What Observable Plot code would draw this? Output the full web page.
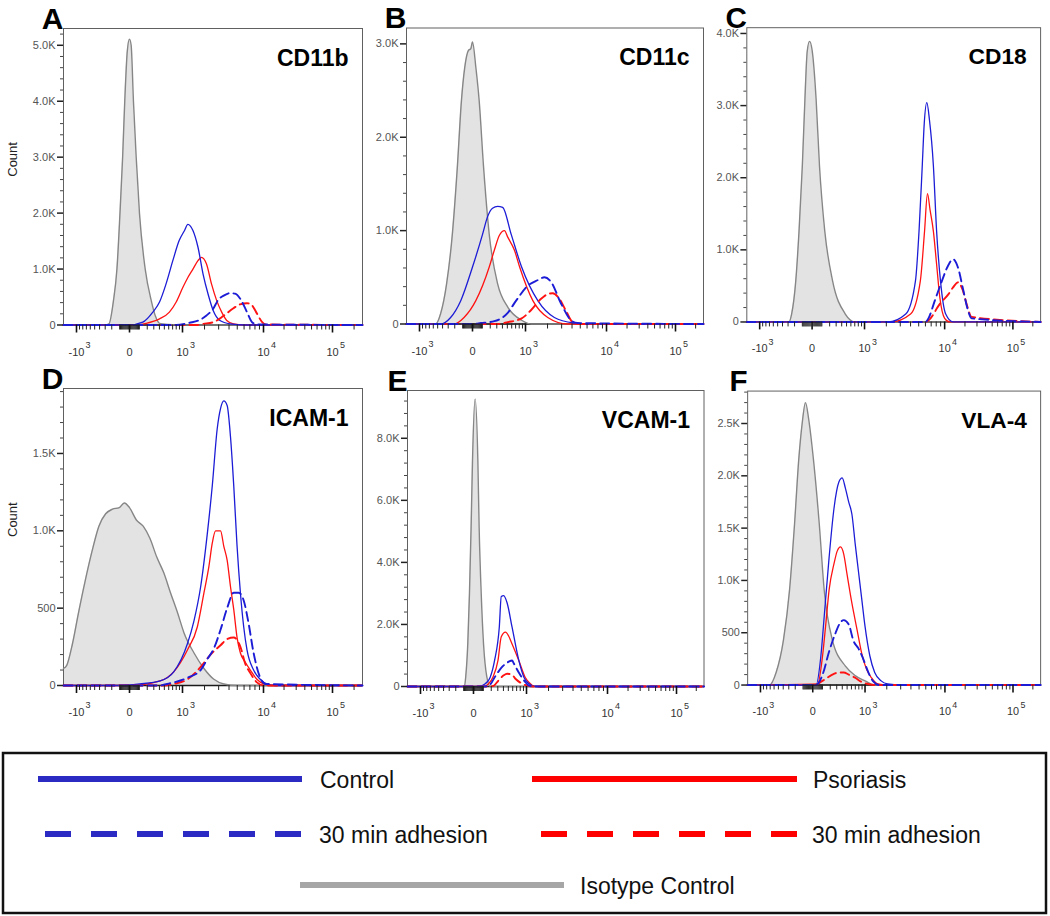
<!DOCTYPE html>
<html><head><meta charset="utf-8">
<script src="https://cdn.jsdelivr.net/npm/d3@7"></script>
<script src="https://cdn.jsdelivr.net/npm/@observablehq/plot@0.6"></script>
<style>
body{margin:0;background:#fff;}
#root{position:relative;width:1050px;height:916px;overflow:hidden;font-family:"Liberation Sans",Arial,sans-serif;background:#fff;}
.panel{position:absolute;}
#legend{position:absolute;left:0;top:0;pointer-events:none;}
</style></head><body><div id="root"></div>
<script>
// ---------- panel text ----------
const panelLetters = ["A","B","C","D","E","F"];
const panelTitles  = ["CD11b","CD11c","CD18","ICAM-1","VCAM-1","VLA-4"];

// ---------- x axis (biexponential display) ----------
const xMajorTicks = [-1000, 0, 1000, 10000, 100000];
const xTickBase   = ["-10", "0", "10", "10", "10"];
const xTickExp    = ["3", "", "3", "4", "5"];

// ---------- y axis ticks per panel ----------
const yTicksA = [0, 1000, 2000, 3000, 4000, 5000];
const yTicksB = [0, 1000, 2000, 3000];
const yTicksC = [0, 1000, 2000, 3000, 4000];
const yTicksD = [0, 500, 1000, 1500];
const yTicksE = [0, 2000, 4000, 6000, 8000];
const yTicksF = [0, 500, 1000, 1500, 2000, 2500];
const yMaxes  = [5300, 3170, 4080, 1920, 9540, 2810];

// ---------- series: [fluorescence, count] ----------
// A  CD11b
const A_iso = [[-1650,0],[-300,0],[-240,20],[-176,440],[-132,1000],[-96,2000],[-67,3000],[-45,4000],[-20,4900],[0,5110],[15,5000],[37,4000],[65,3000],[101,2000],[172,1000],[258,440],[330,150],[402,30],[600,10],[1000,0],[262144,0]];
const A_ctrl = [[-1650,0],[0,0],[141,50],[284,230],[402,410],[540,740],[705,1150],[890,1510],[1071,1690],[1195,1800],[1405,1690],[1643,1390],[1914,910],[2221,550],[2570,260],[3113,80],[4117,20],[6000,0],[262144,0]];
const A_pso = [[-1650,0],[50,0],[185,30],[402,110],[617,230],[800,410],[1010,670],[1195,850],[1405,1000],[1643,1150],[1823,1210],[2119,1090],[2454,730],[2834,440],[3267,230],[3758,80],[4510,20],[6000,0],[262144,0]];
const A_ctrl30 = [[-1650,0],[800,0],[1263,40],[1732,90],[2119,170],[2570,290],[2967,450],[3500,530],[4117,570],[4724,560],[5411,470],[6485,230],[7410,50],[8500,10],[262144,0]];
const A_pso30 = [[-1650,0],[1600,0],[1914,20],[2570,50],[3417,160],[4510,300],[5411,370],[6485,390],[7410,350],[8464,200],[9660,50],[10695,10],[262144,0]];
// B  CD11c
const B_iso = [[-1650,0],[-547,0],[-439,110],[-327,430],[-235,960],[-165,1680],[-114,2390],[-76,2750],[-38,2930],[-15,2950],[0,3020],[31,2750],[65,2390],[114,1680],[186,960],[314,430],[509,180],[873,40],[1207,0],[262144,0]];
const B_ctrl = [[-1650,0],[-439,0],[-261,70],[-122,250],[0,610],[102,960],[164,1150],[233,1240],[314,1260],[404,1250],[588,960],[873,610],[1490,250],[2440,70],[4250,10],[6000,0],[262144,0]];
const B_pso = [[-1650,0],[-210,0],[-84,70],[31,250],[186,610],[260,790],[345,950],[440,1000],[509,930],[669,790],[813,610],[1274,250],[2013,70],[3547,0],[262144,0]];
const B_ctrl30 = [[-1650,0],[0,0],[83,10],[260,30],[509,120],[713,250],[1083,410],[1490,470],[1823,500],[2218,450],[2948,220],[3886,40],[4658,10],[262144,0]];
const B_pso30 = [[-1650,0],[314,0],[509,20],[873,60],[1207,150],[1650,270],[2013,320],[2327,330],[2813,270],[3387,140],[4070,20],[5000,0],[262144,0]];
// C  CD18
const C_iso = [[-1650,0],[-288,0],[-243,110],[-183,570],[-140,1260],[-100,2170],[-71,3090],[-47,3750],[-24,3890],[0,3770],[38,3090],[73,2170],[135,1260],[243,570],[473,110],[713,0],[262144,0]];
const C_ctrl = [[-1650,0],[2095,0],[3500,110],[4579,570],[5047,1260],[5510,2170],[5810,2750],[6230,3040],[6685,2800],[7420,2170],[8086,1260],[8960,570],[10366,110],[13357,0],[262144,0]];
const C_pso = [[-1650,0],[2304,0],[4004,110],[5230,570],[5860,1260],[6335,1780],[6800,1550],[7420,1260],[8086,800],[8804,340],[10000,50],[11900,0],[262144,0]];
const C_ctrl30 = [[-1650,0],[6000,0],[6500,50],[7730,300],[9180,550],[11240,780],[13357,870],[15850,750],[18800,450],[22300,150],[25000,50],[262144,0]];
const C_pso30 = [[-1650,0],[6000,0],[6500,20],[8804,250],[11490,390],[13357,480],[15850,550],[18390,450],[21570,220],[25000,70],[262144,0]];
// D  ICAM-1
const D_iso = [[-1650,110],[-1463,130],[-1175,270],[-933,470],[-729,680],[-557,870],[-413,1030],[-292,1110],[-190,1140],[-104,1150],[-49,1180],[0,1150],[67,1070],[146,1030],[240,950],[351,830],[486,730],[644,600],[840,470],[1053,340],[1454,210],[1967,110],[2622,40],[3465,10],[5000,0],[262144,0]];
const D_ctrl = [[-1650,0],[-104,0],[104,10],[414,30],[735,90],[1178,270],[1454,420],[1783,640],[2168,980],[2503,1290],[2882,1660],[3162,1790],[3465,1840],[3798,1810],[4160,1610],[4550,1290],[4975,900],[5440,600],[5940,380],[6485,230],[7720,100],[9185,40],[11217,10],[15000,0],[262144,0]];
const D_pso = [[-1650,0],[0,0],[414,30],[735,90],[1178,230],[1612,380],[1967,600],[2273,770],[2503,920],[2749,1000],[3162,1000],[3465,900],[3798,810],[4160,640],[4550,490],[4975,310],[5440,210],[6200,150],[7080,100],[8420,40],[10000,10],[13000,0],[262144,0]];
const D_ctrl30 = [[-1650,0],[400,0],[561,10],[1178,50],[1783,100],[2168,170],[2624,240],[3162,360],[3798,500],[4550,600],[5196,600],[5940,550],[6772,400],[7720,210],[9185,50],[10600,10],[262144,0]];
const D_pso30 = [[-1650,0],[500,0],[735,10],[1178,40],[1783,120],[2385,200],[3162,260],[3798,300],[4550,310],[5440,250],[6200,140],[7080,80],[8420,20],[10000,0],[262144,0]];
// E  VCAM-1
const E_iso = [[-1650,0],[-91,0],[-77,300],[-55,1370],[-38,2990],[-22,5130],[-9,7280],[15,9270],[41,7280],[54,5130],[76,2990],[102,1370],[142,300],[186,0],[262144,0]];
const E_ctrl = [[-1650,0],[48,0],[122,90],[186,300],[249,840],[325,1910],[360,2900],[405,2930],[473,2700],[585,1910],[760,840],[913,300],[1084,90],[1295,10],[1600,0],[262144,0]];
const E_pso = [[-1650,0],[102,0],[164,90],[224,300],[303,840],[360,1600],[440,1750],[509,1620],[585,1370],[760,840],[953,300],[1140,90],[1295,0],[262144,0]];
const E_ctrl30 = [[-1650,0],[100,0],[164,20],[260,330],[360,600],[509,800],[585,840],[625,750],[759,450],[953,150],[1084,30],[1300,0],[262144,0]];
const E_pso30 = [[-1650,0],[180,0],[233,20],[314,200],[405,360],[473,410],[585,380],[668,250],[810,120],[1020,30],[1300,0],[262144,0]];
// F  VLA-4
const F_iso = [[-1650,0],[-720,0],[-551,120],[-396,430],[-287,910],[-211,1530],[-152,2160],[-110,2500],[-72,2700],[-40,2550],[6,2160],[65,1530],[120,910],[231,430],[464,180],[697,90],[1000,40],[1377,0],[262144,0]];
const F_ctrl = [[-1650,0],[31,0],[82,280],[120,650],[184,1220],[256,1690],[337,1940],[398,1980],[464,1880],[535,1750],[613,1630],[697,1350],[788,1090],[883,840],[1000,560],[1175,280],[1377,120],[1685,40],[2050,10],[3000,0],[262144,0]];
const F_pso = [[-1650,0],[47,10],[101,280],[141,590],[184,910],[256,1160],[308,1280],[367,1320],[430,1250],[498,1060],[613,780],[748,530],[883,310],[1054,150],[1239,70],[1524,10],[2000,0],[262144,0]];
const F_ctrl30 = [[-1650,0],[31,0],[101,100],[184,320],[282,500],[367,600],[430,620],[535,580],[654,420],[788,350],[938,250],[1105,130],[1293,40],[1600,0],[262144,0]];
const F_pso30 = [[-1650,0],[40,0],[65,20],[141,60],[231,100],[337,120],[430,120],[535,100],[697,70],[883,30],[1105,10],[1400,0],[262144,0]];

// ---------- legend ----------
const legendLabels = ["Control", "Psoriasis", "30 min adhesion", "30 min adhesion", "Isotype Control"];
const legendColors = ["#2b2bc4", "#ff0000", "#2b2bc4", "#ff0000", "#a6a6a6"];
const legendDashed = [false, false, true, true, false];

// ---------- styling / layout ----------
const BLUE = "#1c1cd6", RED = "#ff1212", GRAYLINE = "#868686", GRAYFILL = "#e3e3e3";
const FONT = "'Liberation Sans', Arial, Helvetica, sans-serif";
const panelData = [
  {iso: A_iso, ctrl: A_ctrl, pso: A_pso, ctrl30: A_ctrl30, pso30: A_pso30, yTicks: yTicksA, minor: 200},
  {iso: B_iso, ctrl: B_ctrl, pso: B_pso, ctrl30: B_ctrl30, pso30: B_pso30, yTicks: yTicksB, minor: 200},
  {iso: C_iso, ctrl: C_ctrl, pso: C_pso, ctrl30: C_ctrl30, pso30: C_pso30, yTicks: yTicksC, minor: 200},
  {iso: D_iso, ctrl: D_ctrl, pso: D_pso, ctrl30: D_ctrl30, pso30: D_pso30, yTicks: yTicksD, minor: 100},
  {iso: E_iso, ctrl: E_ctrl, pso: E_pso, ctrl30: E_ctrl30, pso30: E_pso30, yTicks: yTicksE, minor: 400},
  {iso: F_iso, ctrl: F_ctrl, pso: F_pso, ctrl30: F_ctrl30, pso30: F_pso30, yTicks: yTicksF, minor: 100}
];
const layout = [
  {left: 0,     top: 0,   fw: 299,   mt: 28,   mb: 40.5, count: true},
  {left: 343,   top: 0,   fw: 297,   mt: 27.5, mb: 41.5},
  {left: 684,   top: 0,   fw: 297,   mt: 27.5, mb: 40},
  {left: 0,     top: 360, fw: 299,   mt: 28,   mb: 40,   count: true},
  {left: 343.5, top: 360, fw: 296.5, mt: 30,   mb: 39},
  {left: 685,   top: 360, fw: 297,   mt: 31,   mb: 36}
];
const ML = 63, H = 365;
const xDomain = [-1650, -1000, 0, 1000, 10000, 100000, 262144];
const xOffsets = [0, 13, 66, 119, 200, 269];
const xMinorTicks = [
  ...d3.range(-900, -99, 100), ...d3.range(-90, 0, 10), ...d3.range(10, 91, 10),
  ...d3.range(100, 901, 100), ...d3.range(2000, 9001, 1000), ...d3.range(20000, 90001, 10000), 200000
];
const fmtY = d => d === 0 ? "0" : d < 1000 ? String(d) : (d / 1000).toFixed(1) + "K";
const xv = d => d[0], yv = d => d[1];
const root = document.getElementById("root");

panelData.forEach((p, i) => {
  const L = layout[i];
  const width = ML + L.fw + 10;
  const range = [...xOffsets.map(o => ML + o), ML + L.fw];
  const yMax = yMaxes[i];
  const majorStep = p.yTicks[1];
  const yMinor = d3.range(p.minor, yMax + 1, p.minor).filter(v => v % majorStep !== 0);
  const marks = [
    Plot.areaY(p.iso, {x: xv, y: yv, fill: GRAYFILL, curve: "monotone-x"}),
    Plot.frame({stroke: "#606060", strokeWidth: 1}),
    Plot.ruleY([0], {stroke: "#1a1a1a", strokeWidth: 1.6}),
    Plot.line(p.iso, {x: xv, y: yv, stroke: GRAYLINE, strokeWidth: 1.4, curve: "monotone-x"}),
    Plot.line(p.pso, {x: xv, y: yv, stroke: RED, strokeWidth: 1.3, curve: "monotone-x"}),
    Plot.line(p.ctrl, {x: xv, y: yv, stroke: BLUE, strokeWidth: 1.3, curve: "monotone-x"}),
    Plot.line(p.pso30, {x: xv, y: yv, stroke: RED, strokeWidth: 1.9, strokeDasharray: "9,5", curve: "monotone-x"}),
    Plot.line(p.ctrl30, {x: xv, y: yv, stroke: BLUE, strokeWidth: 1.9, strokeDasharray: "9,5", curve: "monotone-x"}),
    Plot.axisX({ticks: xMinorTicks, tickSize: 5, fill: "none", stroke: "#222", strokeWidth: 1, label: null, tickFormat: () => ""}),
    Plot.axisX({ticks: xMajorTicks, tickSize: 8, fill: "none", stroke: "#111", strokeWidth: 1.6, label: null, tickFormat: () => ""}),
    Plot.text(xMajorTicks, {x: d => d, text: (d, j) => xTickBase[j], frameAnchor: "bottom", lineAnchor: "middle", dy: 27, fontSize: 11, fill: "#333"}),
    Plot.text(xMajorTicks.filter(d => d < 0), {x: d => d, text: d => xTickExp[xMajorTicks.indexOf(d)], frameAnchor: "bottom", lineAnchor: "middle", textAnchor: "start", dx: 9, dy: 20, fontSize: 9, fill: "#333"}),
    Plot.text(xMajorTicks.filter(d => d > 0), {x: d => d, text: d => xTickExp[xMajorTicks.indexOf(d)], frameAnchor: "bottom", lineAnchor: "middle", textAnchor: "start", dx: 7.5, dy: 20, fontSize: 9, fill: "#333"}),
    Plot.axisY({ticks: yMinor, tickSize: 3, fill: "none", stroke: "#444", label: null, tickFormat: () => ""}),
    Plot.axisY({ticks: p.yTicks, tickSize: 6, tickPadding: 2, tickFormat: fmtY, fontSize: 11, fill: "#555", stroke: "#222", strokeWidth: 1.5, label: null}),
    Plot.text([panelLetters[i]], {text: d => d, frameAnchor: "top-left", textAnchor: "end", lineAnchor: "bottom", dx: 0, dy: 0, fontSize: 30, fontWeight: "bold", fill: "#000"}),
    Plot.text([panelTitles[i]], {text: d => d, frameAnchor: "top-right", textAnchor: "end", lineAnchor: "bottom", dx: -14, dy: 37, fontSize: 23, fontWeight: "bold", fill: "#000"})
  ];
  if (L.count) marks.push(Plot.text(["Count"], {text: d => d, frameAnchor: "left", rotate: -90, dx: -51, fontSize: 13, fill: "#222"}));
  const svg = Plot.plot({
    width, height: H,
    marginLeft: ML, marginRight: width - ML - L.fw, marginTop: L.mt, marginBottom: L.mb,
    style: {background: "transparent", overflow: "visible", fontFamily: FONT},
    x: {type: "symlog", constant: 350, domain: xDomain, range},
    y: {domain: [0, yMax]},
    marks
  });
  const holder = document.createElement("div");
  holder.className = "panel";
  holder.style.left = L.left + "px";
  holder.style.top = L.top + "px";
  holder.appendChild(svg);
  root.appendChild(holder);
});

// ---------- legend (drawn below the plots) ----------
const legendPos = [
  {x1: 38, x2: 302, y: 779, tx: 320},
  {x1: 532, x2: 797, y: 779, tx: 813},
  {x1: 45, x2: 301, y: 834, tx: 319},
  {x1: 541, x2: 797, y: 834, tx: 812},
  {x1: 300, x2: 564, y: 885, tx: 580}
];
const lg = d3.select(root).append("svg").attr("id", "legend").attr("width", 1050).attr("height", 916);
lg.append("rect").attr("x", 3).attr("y", 753).attr("width", 1043).attr("height", 160)
  .attr("fill", "none").attr("stroke", "#111").attr("stroke-width", 2.5);
legendLabels.forEach((lab, k) => {
  const P = legendPos[k];
  lg.append("line").attr("x1", P.x1).attr("x2", P.x2).attr("y1", P.y).attr("y2", P.y)
    .attr("stroke", legendColors[k]).attr("stroke-width", 6)
    .attr("stroke-dasharray", legendDashed[k] ? "26,20" : null);
  lg.append("text").attr("x", P.tx).attr("y", P.y + 9).attr("font-family", FONT)
    .attr("font-size", 23).attr("fill", "#111").text(lab);
});
</script></body></html>
